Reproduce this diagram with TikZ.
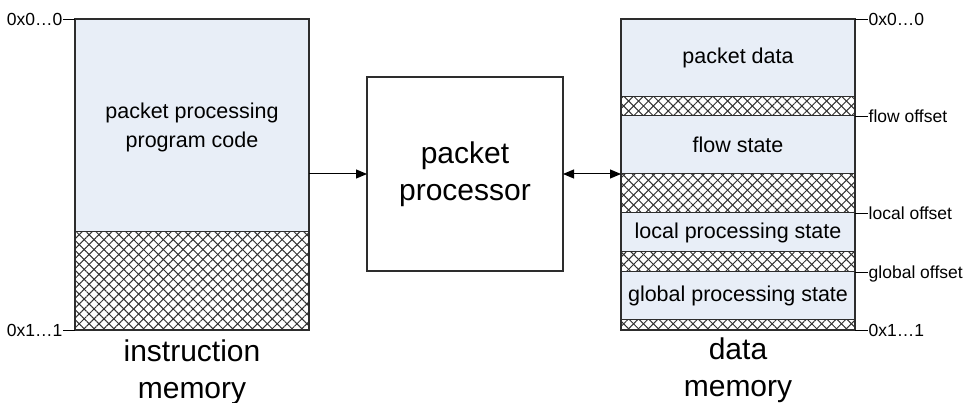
\documentclass[tikz,border=0pt]{standalone}
\usepackage{fontspec}
\setmainfont{Liberation Sans}
\usetikzlibrary{arrows.meta,patterns.meta}

\definecolor{memblue}{RGB}{232,238,247}
\definecolor{edge}{RGB}{45,45,45}
\definecolor{hatchcol}{RGB}{50,50,50}

\tikzset{
  frame/.style={draw=edge, line width=1.2pt, inner sep=0pt, outer sep=0pt},
  region/.style={fill=memblue},
  hatched/.style={
    pattern={Lines[angle=45,distance=7pt,line width=1pt]}, pattern color=hatchcol,
    postaction={pattern={Lines[angle=-45,distance=7pt,line width=1pt]}, pattern color=hatchcol}},
  divider/.style={draw=edge, line width=1pt},
  midtext/.style={font=\fontsize{21.5}{29}\selectfont, align=center, inner sep=0pt},
  bigtext/.style={font=\fontsize{30}{37}\selectfont, align=center, inner sep=0pt},
  addr/.style={font=\fontsize{17.5}{20}\selectfont, inner sep=0.5pt, text depth=0pt},
  tickline/.style={draw=black, line width=0.9pt},
  arr/.style={draw=black, line width=1pt, -{Triangle[length=11pt,width=9pt]}},
  arrboth/.style={draw=black, line width=1pt, {Triangle[length=11pt,width=9pt]}-{Triangle[length=11pt,width=9pt]}},
}

\begin{document}
\begin{tikzpicture}[x=1pt,y=-1pt]
\useasboundingbox (0,0) rectangle (967,403);

% ---------- instruction memory ----------
\fill[region] (75,19) rectangle (309,232);
\fill[hatched] (75,232) rectangle (309,330);
\draw[divider] (75,232) -- (309,232);
\node[frame, minimum width=234pt, minimum height=311pt] (imem) at (192,174.5) {};
\node[midtext] (imemtxt) at (192,127) {packet processing\\program code};
\node[bigtext] (imemname) at (192,372) {instruction\\memory};

\node[addr, anchor=east] (ia0) at (63,19) {0x0…0};
\node[addr, anchor=east] (ia1) at (63,330) {0x1…1};
\draw[tickline] (ia0.east) -- (imem.north west);
\draw[tickline] (ia1.east) -- (imem.south west);

% ---------- packet processor ----------
\node[frame, minimum width=196pt, minimum height=194pt, bigtext] (proc) at (465,174) {packet\\processor};

% ---------- data memory ----------
\fill[region] (621,19) rectangle (855,97);
\fill[hatched] (621,97) rectangle (855,116);
\fill[region] (621,116) rectangle (855,174);
\fill[hatched] (621,174) rectangle (855,213);
\fill[region] (621,213) rectangle (855,252);
\fill[hatched] (621,252) rectangle (855,272);
\fill[region] (621,272) rectangle (855,320);
\fill[hatched] (621,320) rectangle (855,330);
\foreach \yy in {97,116,174,213,252,272,320}
  \draw[divider] (621,\yy) -- (855,\yy);
\node[frame, minimum width=234pt, minimum height=311pt] (dmem) at (738,174.5) {};

\node[midtext] (pkt) at (738,58) {packet data};
\node[midtext] (flow) at (738,145) {flow state};
\node[midtext] (local) at (738,232.5) {local processing state};
\node[midtext] (global) at (738,296) {global processing state};
\node[bigtext] (dmemname) at (738,370) {data\\memory};

\coordinate (fo) at (855,116);
\coordinate (lo) at (855,213);
\coordinate (go) at (855,272);
\node[addr, anchor=west] (da0) at (868,19) {0x0…0};
\node[addr, anchor=west] (dfo) at (868,116) {flow offset};
\node[addr, anchor=west] (dlo) at (868,213) {local offset};
\node[addr, anchor=west] (dgo) at (868,272) {global offset};
\node[addr, anchor=west] (da1) at (868,330) {0x1…1};
\draw[tickline] (dmem.north east) -- (da0.west);
\draw[tickline] (fo) -- (dfo.west);
\draw[tickline] (lo) -- (dlo.west);
\draw[tickline] (go) -- (dgo.west);
\draw[tickline] (dmem.south east) -- (da1.west);

% ---------- connections ----------
\draw[arr] (imem.east |- proc.west) -- (proc.west);
\draw[arrboth] (proc.east) -- (proc.east -| dmem.west);
\end{tikzpicture}
\end{document}
